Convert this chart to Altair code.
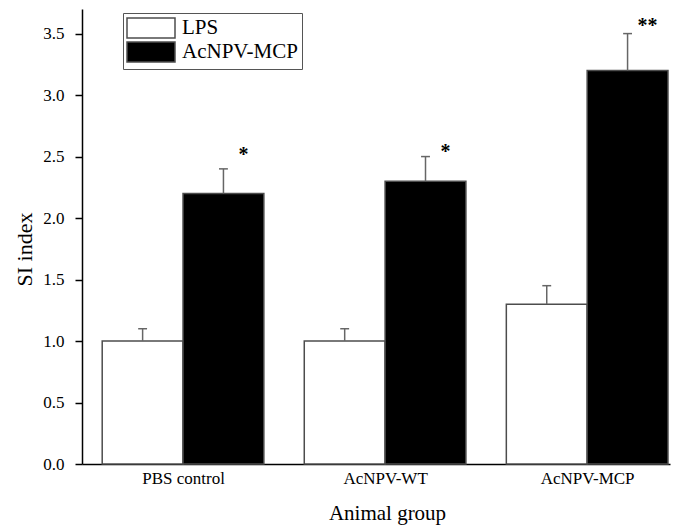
import altair as alt
import pandas as pd

groups = ["PBS control", "AcNPV-WT", "AcNPV-MCP"]
series = ["LPS", "AcNPV-MCP"]
lps_mean = [1.0, 1.0, 1.3]
lps_err = [0.1, 0.1, 0.15]
mcp_mean = [2.2, 2.3, 3.2]
mcp_err = [0.2, 0.2, 0.3]
stars = ["*", "*", "**"]
star_y = [2.54, 2.56, 3.59]
y_tick_values = [0.0, 0.25, 0.5, 0.75, 1.0, 1.25, 1.5, 1.75, 2.0, 2.25,
                 2.5, 2.75, 3.0, 3.25, 3.5]

rows = []
for i, g in enumerate(groups):
    rows.append(dict(group=g, pos=i + 1, series=series[0], slot=0,
                     mean=lps_mean[i], err=lps_err[i], star="", star_y=0.0))
    rows.append(dict(group=g, pos=i + 1, series=series[1], slot=1,
                     mean=mcp_mean[i], err=mcp_err[i], star=stars[i], star_y=star_y[i]))
df = pd.DataFrame(rows)

FONT = "Liberation Serif"
BW = 0.4
CAP = 0.022

label_array = "[" + ",".join("'" + g + "'" for g in groups) + "]"

xscale = alt.Scale(domain=[0.5, 3.41], nice=False, zero=False)
yscale = alt.Scale(domain=[0, 3.7], nice=False)

base = alt.Chart(df).transform_calculate(
    x0=f"datum.pos + (datum.slot - 1) * {BW}",
    x1=f"datum.pos + datum.slot * {BW}",
    xc=f"datum.pos + (datum.slot - 0.5) * {BW}",
    top="datum.mean + datum.err",
).transform_calculate(
    cl=f"datum.xc - {CAP}",
    cr=f"datum.xc + {CAP}",
)

x_axis = alt.Axis(
    values=[1, 2, 3],
    labelExpr=label_array + "[datum.value - 1]",
    ticks=False,
    title="Animal group",
    titleX=305,
    titleY=55,
    titleBaseline="alphabetic",
    titleAlign="center",
    labelPadding=6,
    labelFont=FONT,
    labelFontSize=17,
)
y_axis = alt.Axis(
    values=y_tick_values,
    labelExpr="datum.value % 0.5 ? '' : format(datum.value, '.1f')",
    tickSize={"condition": {"test": "datum.value % 0.5 != 0", "value": 4}, "value": 7},
    title="SI index",
    titleX=-51,
    titleY=240,
    titleAngle=270,
    titleBaseline="alphabetic",
    titleAlign="center",
    labelPadding=11,
    labelFont=FONT,
    labelFontSize=17,
)

bars = base.mark_bar(stroke="#4d4d4d", strokeWidth=1.5).encode(
    x=alt.X("x0:Q", scale=xscale, axis=x_axis),
    x2="x1:Q",
    y=alt.Y("mean:Q", scale=yscale, axis=y_axis),
    y2=alt.datum(0),
    color=alt.Color(
        "series:N",
        scale=alt.Scale(domain=series, range=["white", "black"]),
        sort=series,
        title=None,
    ),
)

err = base.mark_rule(color="#666666", strokeWidth=1.5).encode(
    x="xc:Q", y="mean:Q", y2="top:Q"
)
caps = base.mark_rule(color="#666666", strokeWidth=1.5).encode(
    x="cl:Q", x2="cr:Q", y="top:Q"
)
star_text = base.transform_filter("datum.star != ''").mark_text(
    font=FONT, fontSize=20, fontWeight="bold", dx=20, dy=9, align="center",
    baseline="alphabetic", color="black",
).encode(x="xc:Q", y="star_y:Q", text="star:N")

chart = alt.layer(bars, err, caps, star_text).properties(
    width=588,
    height=455,
    autosize=alt.AutoSizeParams(type="none"),
    padding={"left": 82, "top": 9, "right": 8, "bottom": 64},
    background="white",
).configure_view(stroke=None).configure_axis(
    labelFont=FONT,
    titleFont=FONT,
    labelFontSize=17,
    titleFontSize=22,
    titleFontWeight="normal",
    labelColor="black",
    titleColor="black",
    domainColor="black",
    domainWidth=1.5,
    tickColor="black",
    tickWidth=1.5,
    grid=False,
).configure_axisX(titleFontSize=21).configure_legend(
    orient="none",
    legendX=41,
    legendY=4,
    symbolType="M-2.4,-1H2.4V1H-2.4Z",
    symbolSize=400,
    symbolStrokeColor="#4d4d4d",
    symbolStrokeWidth=1.5,
    symbolOffset=13,
    labelOffset=20,
    labelFont=FONT,
    labelFontSize=21,
    labelColor="black",
    strokeColor="#555555",
    padding=4,
    rowPadding=-3,
)

chart.save("out.html", embed_options={"renderer": "svg", "actions": False})
